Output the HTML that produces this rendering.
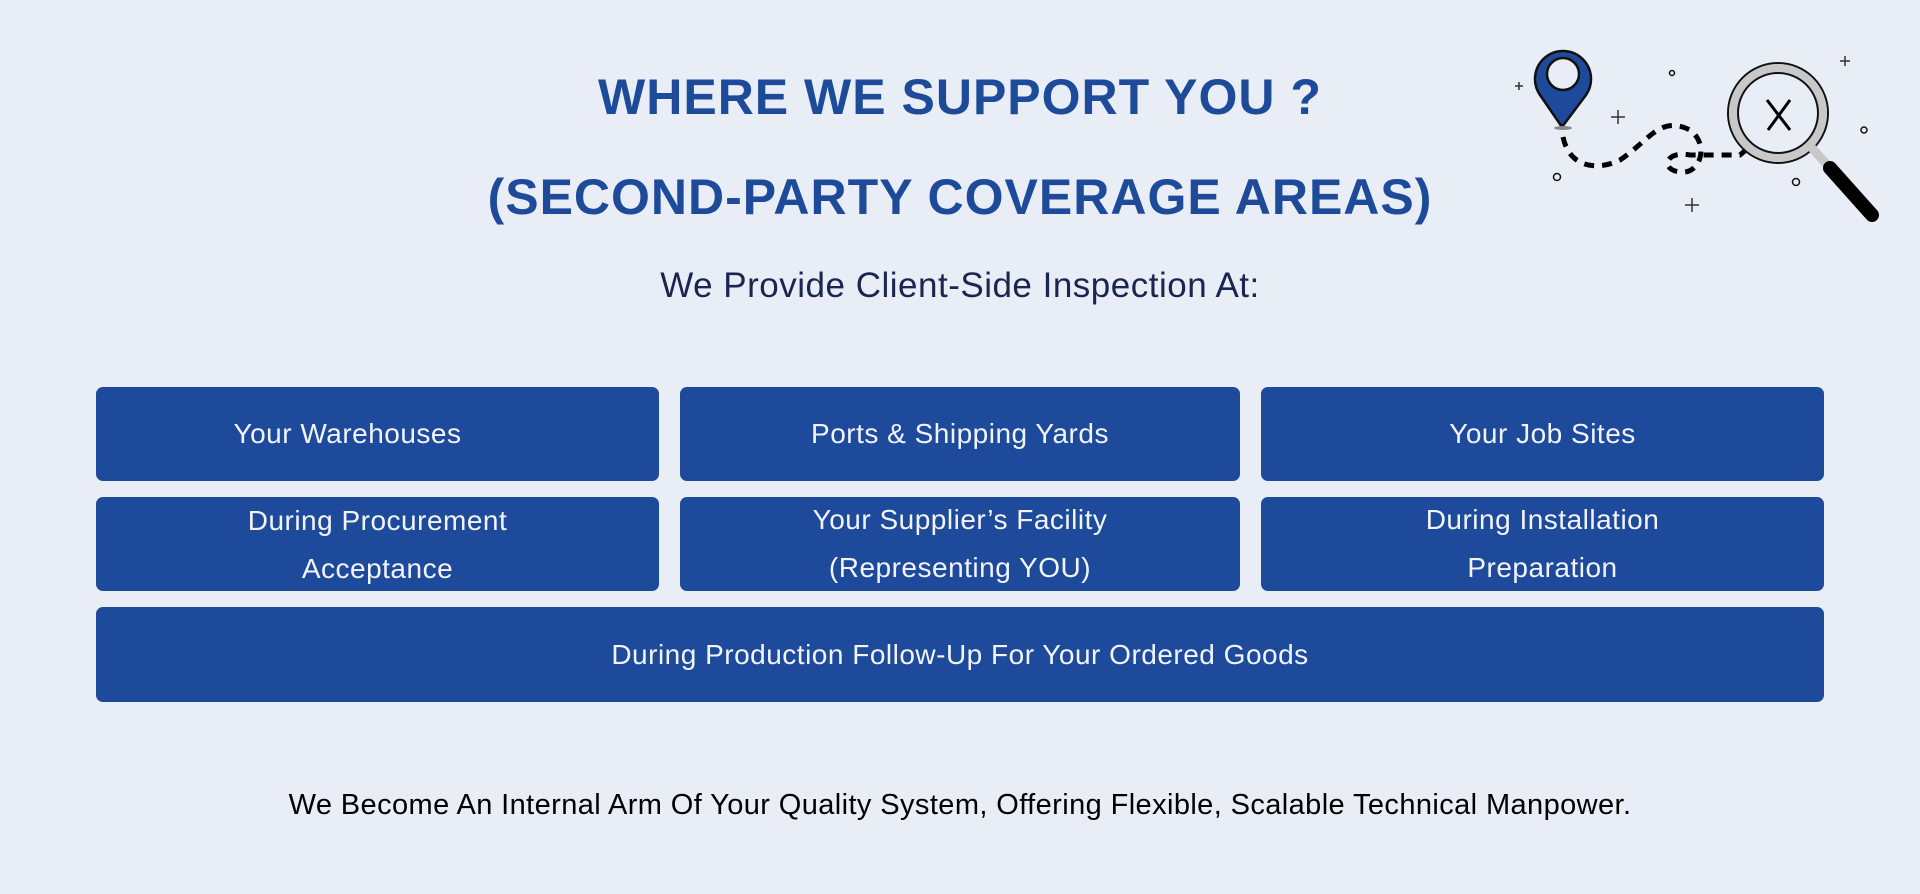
<!DOCTYPE html>
<html><head><meta charset="utf-8"><style>
body{margin:0;width:1920px;height:894px;background:#e8edf6;position:relative;overflow:hidden;font-family:"Liberation Sans",sans-serif}
.t{position:absolute;left:0;width:1920px;text-align:center;color:#1e4a9a;font-weight:bold;font-size:50px;letter-spacing:1px}
.b{position:absolute;background:#1d4a9b;border-radius:7px;color:#f2f4fa;font-size:28px;display:flex;align-items:center;justify-content:center;text-align:center;line-height:48px;letter-spacing:0.5px}
</style></head><body>
<div class="t" style="top:68px">WHERE WE SUPPORT YOU ?</div>
<div class="t" style="top:168px;font-size:50px">(SECOND-PARTY COVERAGE AREAS)</div>
<div style="position:absolute;top:266px;left:0;width:1920px;text-align:center;font-size:35px;color:#1a2550;letter-spacing:0.5px">We Provide Client-Side Inspection At:</div>
<div class="b" style="left:96px;top:387px;width:563px;height:94px;padding-right:60px;box-sizing:border-box">Your Warehouses</div>
<div class="b" style="left:680px;top:387px;width:560px;height:94px">Ports &amp; Shipping Yards</div>
<div class="b" style="left:1261px;top:387px;width:563px;height:94px">Your Job Sites</div>
<div class="b" style="left:96px;top:497px;width:563px;height:94px;align-items:flex-start;box-sizing:border-box"><div>During Procurement<br>Acceptance</div></div>
<div class="b" style="left:680px;top:497px;width:560px;height:94px">Your Supplier’s Facility<br>(Representing YOU)</div>
<div class="b" style="left:1261px;top:497px;width:563px;height:94px">During Installation<br>Preparation</div>
<div class="b" style="left:96px;top:607px;width:1728px;height:95px">During Production Follow-Up For Your Ordered Goods</div>
<div style="position:absolute;top:789px;left:0;width:1920px;text-align:center;font-size:29px;color:#000;letter-spacing:0.4px">We Become An Internal Arm Of Your Quality System, Offering Flexible, Scalable Technical Manpower.</div>
<svg style="position:absolute;left:0;top:0" width="1920" height="894">
<path d="M1562 127 L1540 95 A28 28 0 1 1 1586 95 Z" fill="#1d4a9b" stroke="#111" stroke-width="2.5"/>
<circle cx="1563" cy="74" r="16" fill="#e8edf6" stroke="#111" stroke-width="2.5"/>
<ellipse cx="1563" cy="128" rx="9" ry="2" fill="#888"/>
<path d="M1563 137 C1570 170 1600 170 1620 160 C1650 140 1660 115 1690 130 C1710 145 1700 175 1680 172 C1660 170 1665 150 1690 155 L1740 155 L1775 125" fill="none" stroke="#000" stroke-width="5" stroke-dasharray="10 8"/>
<circle cx="1778" cy="113" r="50" fill="#e8edf6" stroke="#111" stroke-width="2"/>
<circle cx="1778" cy="113" r="45" fill="none" stroke="#c8c8c8" stroke-width="8"/>
<circle cx="1778" cy="113" r="40" fill="none" stroke="#111" stroke-width="2"/>
<path d="M1767 100 L1790 130 M1790 100 L1768 130" stroke="#000" stroke-width="3"/>
<path d="M1812 148 L1830 168" stroke="#c8c8c8" stroke-width="9"/>
<path d="M1830 168 L1872 215" stroke="#000" stroke-width="14" stroke-linecap="round"/>
<g fill="none" stroke="#111" stroke-width="1.5"><circle cx="1672" cy="73" r="2.5"/><circle cx="1557" cy="177" r="3.5"/><circle cx="1796" cy="182" r="3.5"/><circle cx="1864" cy="130" r="3"/></g>
<g stroke="#333" stroke-width="1.5"><path d="M1618 110v14M1611 117h14M1692 198v14M1685 205h14M1845 56v10M1840 61h10M1519 82v8M1515 86h8"/></g>
</svg>
</body></html>
